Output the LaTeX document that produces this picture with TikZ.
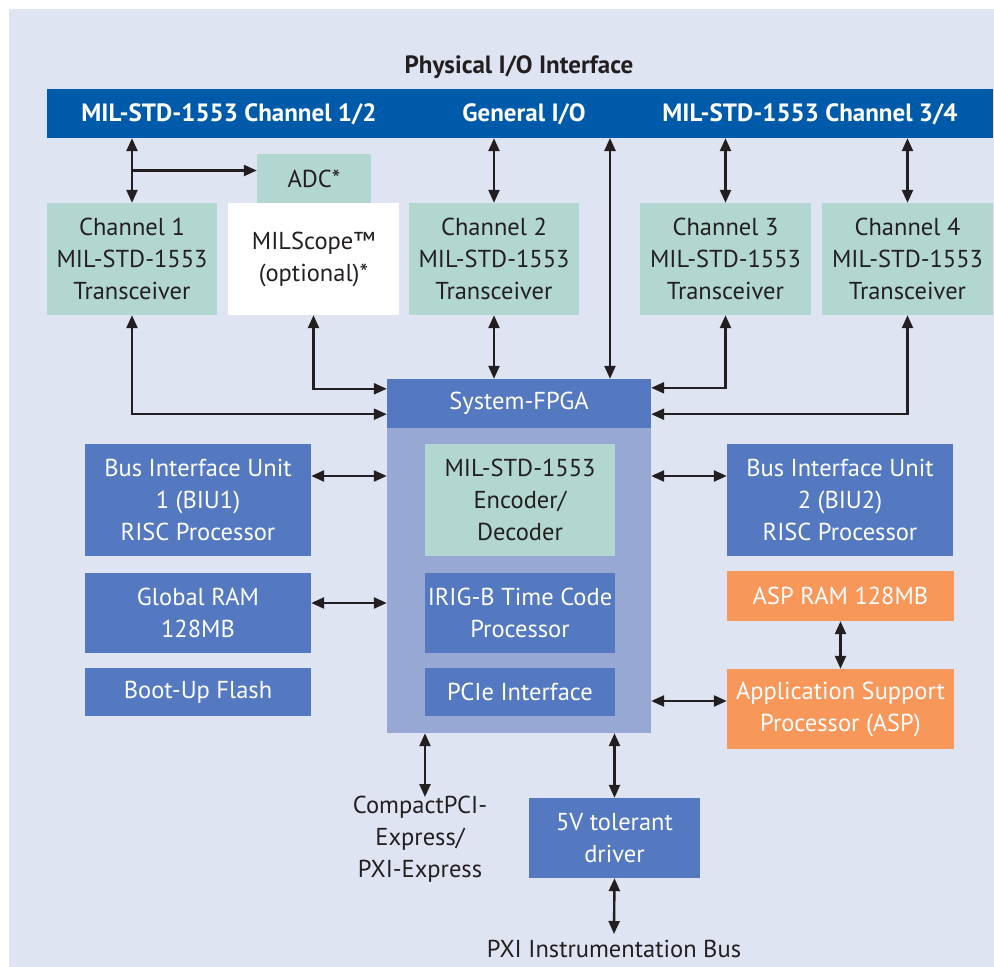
\documentclass[tikz,border=0pt]{standalone}
\usepackage{fontspec}
\setmainfont{PT Sans}
\usetikzlibrary{calc,arrows.meta,positioning}

\definecolor{bgcol}{HTML}{DFE4F2}
\definecolor{barcol}{HTML}{005AAA}
\definecolor{tealcol}{HTML}{B2D7D0}
\definecolor{bluecol}{HTML}{5479C0}
\definecolor{fpgacol}{HTML}{97A8D5}
\definecolor{orangecol}{HTML}{F7975A}
\definecolor{inkcol}{HTML}{231F20}

\tikzset{
  box/.style={inner sep=0pt, align=center, text=inkcol,
    font=\fontsize{24.5}{32}\selectfont},
  boldlabel/.style={box, font=\bfseries\fontsize{25}{32}\selectfont},
  teal/.style={box, fill=tealcol},
  blue/.style={box, fill=bluecol, text=white},
  orange/.style={box, fill=orangecol, text=white},
  link/.style={line width=2.4pt, draw=inkcol,
    {Triangle[length=13pt,width=11pt]}-{Triangle[length=13pt,width=11pt]}},
  onelink/.style={line width=2.4pt, draw=inkcol,
    -{Triangle[length=13pt,width=11pt]}}
}

\begin{document}
\begin{tikzpicture}[x=1pt,y=-1pt]
	% Rahmen und Hintergrund
	\useasboundingbox (0,0) rectangle (994,967);
	\fill[bgcol] (9,9) rectangle (994,967);
	% Obere Schnittstelle
	\node[boldlabel] (title) at (519,67) {Physical I/O Interface};
	\node[box, fill=barcol, minimum width=946pt, minimum height=49pt] (bar) at (520,113.5) {};
	\node[boldlabel, text=white] (bar12) at (229,114.5) {MIL-STD-1553 Channel 1/2};
	\node[boldlabel, text=white] (bargio) at (524,114.5) {General I/O};
	\node[boldlabel, text=white] (bar34) at (810,114.5) {MIL-STD-1553 Channel 3/4};
	% Transceiver
	\node[teal, minimum width=170pt, minimum height=112pt] (ch1) at (132,259) {Channel 1\\MIL-STD-1553\\Transceiver};
	\node[teal, minimum width=114pt, minimum height=49pt] (adc) at (314,178.5) {ADC*};
	\node[box, fill=white, minimum width=171pt, minimum height=112pt] (scope) at (313.5,259) {MILScope™\\(optional)*};
	\node[teal, minimum width=170pt, minimum height=112pt] (ch2) at (494,259) {Channel 2\\MIL-STD-1553\\Transceiver};
	\node[teal, minimum width=171pt, minimum height=112pt] (ch3) at (725.5,259) {Channel 3\\MIL-STD-1553\\Transceiver};
	\node[teal, minimum width=171pt, minimum height=112pt] (ch4) at (907.5,259) {Channel 4\\MIL-STD-1553\\Transceiver};
	% FPGA
	\node[box, fill=fpgacol, minimum width=264pt, minimum height=305pt] (fbody) at (519,580.5) {};
	\node[blue, minimum width=264pt, minimum height=49pt] (fpga) at (519,403.5) {System-FPGA};
	\node[teal, minimum width=190pt, minimum height=112pt] (enc) at (520,500) {MIL-STD-1553\\Encoder/\\Decoder};
	\node[blue, minimum width=190pt, minimum height=80pt] (irig) at (520,613) {IRIG-B Time Code\\Processor};
	\node[blue, minimum width=190pt, minimum height=48pt] (pcie) at (520,692) {PCIe Interface};
	% Linke Spalte
	\node[blue, minimum width=226pt, minimum height=112pt] (biu1) at (198,500) {Bus Interface Unit\\1 (BIU1)\\RISC Processor};
	\node[blue, minimum width=226pt, minimum height=80pt] (gram) at (198,613) {Global RAM\\128MB};
	\node[blue, minimum width=226pt, minimum height=48pt] (boot) at (198,692) {Boot-Up Flash};
	% Rechte Spalte
	\node[blue, minimum width=226pt, minimum height=112pt] (biu2) at (840,500) {Bus Interface Unit\\2 (BIU2)\\RISC Processor};
	\node[orange, minimum width=227pt, minimum height=50pt] (asram) at (840.5,596) {ASP RAM 128MB};
	\node[orange, minimum width=227pt, minimum height=80pt] (asp) at (840.5,709) {Application Support\\Processor (ASP)};
	% Unten
	\node[box, inner sep=2pt] (cpci) at (420,839) {CompactPCI-\\Express/\\PXI-Express};
	\node[blue, minimum width=171pt, minimum height=80pt] (drv) at (614.5,838) {5V tolerant\\driver};
	\node[box] (pxi) at (614,949) {PXI Instrumentation Bus};
	% Hilfspunkte
	\coordinate (gio) at (610,138);
	\coordinate (split) at ($(bar.south -| ch1.north)!.5!(ch1.north)$);
	\coordinate (cpcitop) at (425,797);
	\coordinate (pxitop) at (614,934);
	% Verbindungen zur Schnittstelle
	\draw[link] (bar.south -| ch1.north) -- (ch1.north);
	\draw[onelink] (split) -- (split -| adc.west);
	\draw[link] (bar.south -| ch2.north) -- (ch2.north);
	\draw[link] (bar.south -| ch3.north) -- (ch3.north);
	\draw[link] (bar.south -| ch4.north) -- (ch4.north);
	\draw[link] (gio) -- (gio |- fpga.north);
	% Verbindungen zum FPGA
	\draw[link] (ch1.south) |- ($(fpga.south west)+(0,-14)$);
	\draw[link] (scope.south) |- ($(fpga.north west)+(0,10)$);
	\draw[link] (ch2.south) -- (ch2.south |- fpga.north);
	\draw[link] (ch3.south) |- ($(fpga.north east)+(0,9)$);
	\draw[link] (ch4.south) |- ($(fpga.south east)+(0,-14)$);
	\draw[link] ([yshift=24pt]biu1.east) -- ([yshift=24pt]biu1.east -| fbody.west);
	\draw[link] ([yshift=10pt]gram.east) -- ([yshift=10pt]gram.east -| fbody.west);
	\draw[link] ([yshift=24pt]biu2.west) -- ([yshift=24pt]biu2.west -| fbody.east);
	\draw[link] ([yshift=8pt]asp.west) -- ([yshift=8pt]asp.west -| fbody.east);
	\draw[link] (asram.south) -- (asp.north);
	\draw[link] (fbody.south -| cpcitop) -- (cpcitop);
	\draw[link] (fbody.south -| drv.north) -- (drv.north);
	\draw[link] (drv.south) -- (pxitop);
\end{tikzpicture}
\end{document}
